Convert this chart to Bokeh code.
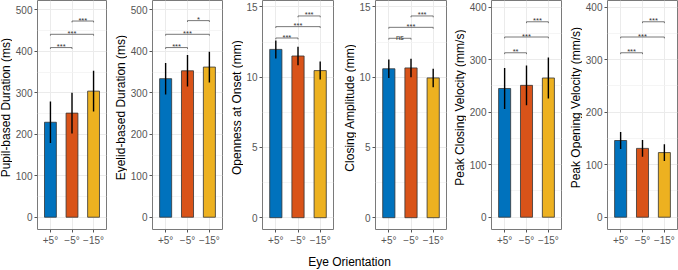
import math
from bokeh.plotting import figure
from bokeh.layouts import row, column
from bokeh.models import Range1d, FixedTicker
from bokeh.core.properties import value
from bokeh.embed import file_html
from bokeh.resources import INLINE

# Conditions and their fill colours
orientations = ["+5°", "−5°", "−15°"]
bar_colors = ["#0072BD", "#D95319", "#EDB120"]

# Mean and error (half-length) for each measure, in the order of orientations
pupil_duration = [229, 251, 304]
pupil_duration_err = [50, 49, 49]
eyelid_duration = [334, 353, 362]
eyelid_duration_err = [38, 38, 37]
openness_onset = [11.98, 11.51, 10.47]
openness_onset_err = [0.64, 0.65, 0.64]
closing_amplitude = [10.60, 10.66, 9.95]
closing_amplitude_err = [0.66, 0.66, 0.66]
peak_closing_vel = [245, 251, 265]
peak_closing_vel_err = [39, 38, 39]
peak_opening_vel = [146, 131, 123]
peak_opening_vel_err = [16, 16, 16]

# Pairwise comparisons: (+5 vs -5), (+5 vs -15), (-5 vs -15)
comparison_pairs = [(1, 2), (1, 3), (2, 3)]
pupil_sig = ["***", "***", "***"]
pupil_sig_y = [409, 441, 473]
eyelid_sig = ["***", "***", "*"]
eyelid_sig_y = [409, 441, 474]
openness_sig = ["***", "***", "***"]
openness_sig_y = [12.79, 13.60, 14.36]
amplitude_sig = ["ns", "***", "***"]
amplitude_sig_y = [12.77, 13.55, 14.36]
closing_vel_sig = ["**", "***", "***"]
closing_vel_sig_y = [313, 343, 372]
opening_vel_sig = ["***", "***", "***"]
opening_vel_sig_y = [313, 343, 372]

# Axis tick values
ticks_ms = [0, 100, 200, 300, 400, 500]
ticks_mm = [0, 5, 10, 15]
ticks_vel = [0, 100, 200, 300, 400]

FONT = "Liberation Sans"
X = [1, 2, 3]
FIG_H = 248
BOTTOM = 19


def strip(width, height):
    """Blank figure whose data units are pixels, used to hold titles."""
    s = figure(width=width, height=height, output_backend="svg", toolbar_location=None,
               x_range=Range1d(0, width), y_range=Range1d(0, height),
               min_border_left=0, min_border_right=0, min_border_top=0,
               min_border_bottom=0)
    s.axis.visible = False
    s.grid.visible = False
    s.outline_line_color = None
    s.background_fill_color = "white"
    s.border_fill_color = "white"
    return s


def y_title(text, width, cx):
    s = strip(width, FIG_H)
    s.text(x=[cx], y=[FIG_H - 116], text=[text], angle=math.pi / 2,
           text_font=value(FONT), text_font_size="12px", text_align="center",
           text_baseline="middle", text_color="black")
    return s


def panel(means, errs, sig_labels, sig_y, yr, major, width, left):
    p = figure(width=width, height=FIG_H, output_backend="svg", toolbar_location=None,
               x_range=Range1d(0.4, 3.6), y_range=Range1d(*yr),
               min_border_left=left, min_border_right=1,
               min_border_top=0, min_border_bottom=BOTTOM)
    p.background_fill_color = "white"
    p.border_fill_color = "white"
    p.outline_line_color = "#7a7a7a"
    p.outline_line_width = 1

    step = major[1] - major[0]
    minor = [t + step / 2 for t in major]

    p.vbar(x=X, top=means, bottom=0, width=0.55, fill_color=bar_colors,
           line_color="#333333", line_width=0.8)
    lo = [m - e for m, e in zip(means, errs)]
    hi = [m + e for m, e in zip(means, errs)]
    p.segment(x0=X, y0=lo, x1=X, y1=hi, line_color="black", line_width=1.4)

    # significance brackets
    tip = (yr[1] - yr[0]) * 0.006
    xs, ys, mids = [], [], []
    for (a, b), h in zip(comparison_pairs, sig_y):
        xs.append([a, a, b, b])
        ys.append([h - tip, h, h, h - tip])
        mids.append((a + b) / 2)
    p.multi_line(xs=xs, ys=ys, line_color="#555555", line_width=0.8)
    p.text(x=mids, y=sig_y, text=sig_labels, text_font=value(FONT),
           text_font_size="7.5px", text_align="center", text_baseline="alphabetic",
           y_offset=-1, text_color="#333333")

    p.xaxis.ticker = FixedTicker(ticks=X)
    p.xaxis.major_label_overrides = {i + 1: lab for i, lab in enumerate(orientations)}
    p.yaxis.ticker = FixedTicker(ticks=major, minor_ticks=minor)
    for ax in (p.xaxis, p.yaxis):
        ax.axis_line_color = None
        ax.major_tick_line_color = "#555555"
        ax.major_tick_out = 3
        ax.major_tick_in = 0
        ax.minor_tick_line_color = None
        ax.major_label_text_font = FONT
        ax.major_label_text_font_size = "10px"
        ax.major_label_text_color = "#555555"
        ax.major_label_standoff = 1
    p.xaxis.major_label_standoff = 2

    p.xgrid.ticker = FixedTicker(ticks=X)
    p.xgrid.grid_line_color = "#ebebeb"
    p.ygrid.grid_line_color = "#ebebeb"
    p.ygrid.minor_grid_line_color = "#f2f2f2"
    p.ygrid.minor_grid_line_width = 0.8
    return p


items = [
    y_title("Pupil-based Duration (ms)", 12, 5.5),
    panel(pupil_duration, pupil_duration_err, pupil_sig, pupil_sig_y,
          (-29.6, 522.5), ticks_ms, 95, 21),
    y_title("Eyelid-based Duration (ms)", 20, 13),
    panel(eyelid_duration, eyelid_duration_err, eyelid_sig, eyelid_sig_y,
          (-29.6, 522.5), ticks_ms, 96, 21),
    y_title("Openness at Onset (mm)", 20, 13),
    panel(openness_onset, openness_onset_err, openness_sig, openness_sig_y,
          (-0.84, 15.46), ticks_mm, 91, 16),
    y_title("Closing Amplitude (mm)", 22, 15),
    panel(closing_amplitude, closing_amplitude_err, amplitude_sig, amplitude_sig_y,
          (-0.84, 15.46), ticks_mm, 91, 16),
    y_title("Peak Closing Velocity (mm/s)", 19, 12),
    panel(peak_closing_vel, peak_closing_vel_err, closing_vel_sig, closing_vel_sig_y,
          (-23.4, 412.5), ticks_vel, 96, 21),
    y_title("Peak Opening Velocity (mm/s)", 20, 13),
    panel(peak_opening_vel, peak_opening_vel_err, opening_vel_sig, opening_vel_sig_y,
          (-23.4, 412.5), ticks_vel, 96, 21),
]

# shared x-axis title
t = strip(678, 22)
t.text(x=[349], y=[9], text=["Eye Orientation"], text_font=value(FONT),
       text_font_size="12px", text_align="center", text_baseline="middle",
       text_color="black")

layout = column(row(*items, spacing=0), t, spacing=0)

open("out.html", "w").write(file_html(layout, INLINE))
